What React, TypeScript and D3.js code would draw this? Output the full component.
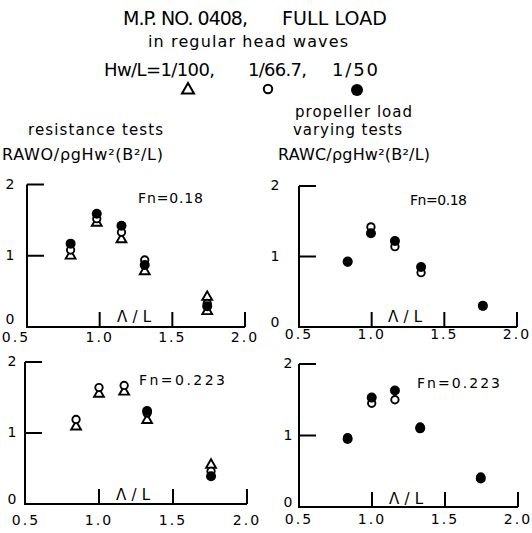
import React from 'react';
import * as d3 from 'd3';

// ---------- axis ticks ----------
const xTicks = [0.5, 1.0, 1.5, 2.0];
const xTickLabels = ['0.5', '1.0', '1.5', '2.0'];
const yTicks = [0, 1, 2];
const yTickLabels = ['0', '1', '2'];

// ---------- resistance tests, Fn = 0.18 ----------
const resA_x = [0.8, 0.98, 1.15, 1.31, 1.74];
const resA_tri = [1.0, 1.46, 1.23, 0.78, 0.42];
const resA_open = [1.08, 1.52, 1.33, 0.94, 0.33];
const resA_filled = [1.17, 1.59, 1.42, 0.87, 0.29];
const resA_triExtraX = [1.74];
const resA_triExtra = [0.22];

// ---------- propeller load varying tests, Fn = 0.18 ----------
const propA_x = [0.835, 0.995, 1.16, 1.34, 1.765];
const propA_open = [0.92, 1.42, 1.14, 0.77, 0.3];
const propA_filled = [0.93, 1.33, 1.22, 0.85, 0.3];

// ---------- resistance tests, Fn = 0.223 ----------
const resB_x = [0.845, 1.0, 1.17, 1.325, 1.757];
const resB_tri = [1.09, 1.55, 1.58, 1.18, 0.55];
const resB_open = [1.19, 1.64, 1.67, 1.28, 0.46];
const resB_filledX = [1.325, 1.757];
const resB_filled = [1.31, 0.39];

// ---------- propeller load varying tests, Fn = 0.223 ----------
const propB_x = [0.833, 0.998, 1.157, 1.33, 1.745];
const propB_open = [0.97, 1.45, 1.5, 1.12, 0.42];
const propB_filled = [0.95, 1.53, 1.63, 1.1, 0.4];

type Pt = { x: number; y: number };
const zip = (xs: number[], ys: number[]): Pt[] => xs.map((x, i) => ({ x, y: ys[i] }));

const FONT = '"DejaVu Sans", sans-serif';

const panels = [
  {
    key: 'tl', x0: 27, x1: 245, yz: 327, y2: 184.5,
    tri: [...zip(resA_x, resA_tri), ...zip(resA_triExtraX, resA_triExtra)],
    open: zip(resA_x, resA_open), filled: zip(resA_x, resA_filled),
    fn: 'Fn=0.18', fnX: 138, fnY: 203, fnW: 65,
    lamX: 117, lamY: 322, tickY: 342, firstDx: -11, yLabDx: -17, zeroDy: -3,
  },
  {
    key: 'tr', x0: 299, x1: 517, yz: 327, y2: 186,
    tri: [] as Pt[],
    open: zip(propA_x, propA_open), filled: zip(propA_x, propA_filled),
    fn: 'Fn=0.18', fnX: 410, fnY: 205, fnW: 57,
    lamX: 388, lamY: 322, tickY: 339, firstDx: 0, yLabDx: -24, zeroDy: 0,
  },
  {
    key: 'bl', x0: 25, x1: 247, yz: 504, y2: 362,
    tri: zip(resB_x, resB_tri),
    open: zip(resB_x, resB_open), filled: zip(resB_filledX, resB_filled),
    fn: 'Fn=0.223', fnX: 139, fnY: 385, fnW: 86,
    lamX: 116, lamY: 500, tickY: 525, firstDx: 1, yLabDx: -13, zeroDy: 0,
  },
  {
    key: 'br', x0: 299, x1: 518, yz: 507, y2: 364,
    tri: [] as Pt[],
    open: zip(propB_x, propB_open), filled: zip(propB_x, propB_filled),
    fn: 'Fn=0.223', fnX: 417, fnY: 388, fnW: 83,
    lamX: 389, lamY: 504, tickY: 524, firstDx: 0, yLabDx: -11, zeroDy: 0,
  },
];

const triPath = d3.symbol().type(d3.symbolTriangle).size(42)() as string;
const triPathBig = d3.symbol().type(d3.symbolTriangle).size(62)() as string;

function Panel({ p }: { p: (typeof panels)[number] }) {
  const x = d3.scaleLinear().domain([0.5, 2.0]).range([p.x0, p.x1]);
  const y = d3.scaleLinear().domain([0, 2]).range([p.yz, p.y2]);
  const ax = x(0.5);
  const sw = 2;
  return (
    <g>
      {/* y axis */}
      <line x1={ax} x2={ax} y1={y(0)} y2={y(2)} stroke="#000" strokeWidth={sw} />
      {yTicks.filter((t) => t > 0).map((t) => (
        <line key={t} x1={ax} x2={ax + 17} y1={y(t)} y2={y(t)} stroke="#000" strokeWidth={sw} />
      ))}
      {/* x axis */}
      <line x1={ax - 1} x2={x(2.0)} y1={y(0)} y2={y(0)} stroke="#000" strokeWidth={sw} />
      {xTicks.filter((t) => t > 0.5).map((t) => (
        <line key={t} x1={x(t)} x2={x(t)} y1={y(0)} y2={y(0) - 15} stroke="#000" strokeWidth={sw} />
      ))}
      {/* tick labels */}
      {xTicks.map((t, i) => (
        <text key={t} x={x(t) + (i === 0 ? p.firstDx : 0)} y={p.tickY} textAnchor="middle"
          fontFamily={FONT} fontSize={14} letterSpacing={2}>{xTickLabels[i]}</text>
      ))}
      {yTicks.map((t, i) => (
        <text key={t} x={ax + p.yLabDx} y={y(t) + (t === 0 ? p.zeroDy : 4)} textAnchor="middle"
          fontFamily={FONT} fontSize={14}>{yTickLabels[i]}</text>
      ))}
      <text x={p.lamX} y={p.lamY} fontFamily={FONT} fontSize={15} textLength={34} lengthAdjust="spacing">Λ/L</text>
      <text x={p.fnX} y={p.fnY} fontFamily={FONT} fontSize={14} textLength={p.fnW} lengthAdjust="spacing">{p.fn}</text>
      {/* markers */}
      {p.tri.map((d, i) => (
        <path key={'t' + i} d={triPath} transform={`translate(${x(d.x)},${y(d.y)})`}
          fill="#fff" stroke="#000" strokeWidth={1.9} />
      ))}
      {p.open.map((d, i) => (
        <circle key={'o' + i} cx={x(d.x)} cy={y(d.y)} r={3.7} fill="#fff" stroke="#000" strokeWidth={1.9} />
      ))}
      {p.filled.map((d, i) => (
        <circle key={'f' + i} cx={x(d.x)} cy={y(d.y)} r={5} fill="#000" />
      ))}
    </g>
  );
}

export default function App() {
  return (
    <svg width={532} height={533} style={{ position: 'absolute', left: 0, top: 0, background: '#fff' }}>
      <rect width={532} height={533} fill="#fff" />
      {/* header */}
      <text x={123} y={25} fontFamily={FONT} fontSize={19} textLength={125} lengthAdjust="spacing">M.P. NO. 0408,</text>
      <text x={282} y={25} fontFamily={FONT} fontSize={19} textLength={105} lengthAdjust="spacing">FULL LOAD</text>
      <text x={148} y={47} fontFamily={FONT} fontSize={16} textLength={200} lengthAdjust="spacing">in regular head waves</text>
      <text x={104} y={76} fontFamily={FONT} fontSize={18} textLength={111} lengthAdjust="spacing">Hw/L=1/100,</text>
      <text x={248} y={76} fontFamily={FONT} fontSize={18} textLength={59} lengthAdjust="spacing">1/66.7,</text>
      <text x={332} y={76} fontFamily={FONT} fontSize={18} textLength={46} lengthAdjust="spacing">1/50</text>
      <path d={triPathBig} transform="translate(188,90)" fill="#fff" stroke="#000" strokeWidth={2} />
      <circle cx={268} cy={89} r={4.2} fill="#fff" stroke="#000" strokeWidth={2} />
      <circle cx={357} cy={90} r={6} fill="#000" />
      {/* panel titles */}
      <text x={295} y={117} fontFamily={FONT} fontSize={15} textLength={117} lengthAdjust="spacing">propeller load</text>
      <text x={28} y={135} fontFamily={FONT} fontSize={15} textLength={135} lengthAdjust="spacing">resistance tests</text>
      <text x={293} y={135} fontFamily={FONT} fontSize={15} textLength={109} lengthAdjust="spacing">varying tests</text>
      <text x={2} y={160} fontFamily={FONT} fontSize={16} textLength={161} lengthAdjust="spacing">RAWO/ρgHw²(B²/L)</text>
      <text x={278} y={160} fontFamily={FONT} fontSize={16} textLength={152} lengthAdjust="spacing">RAWC/ρgHw²(B²/L)</text>
      {panels.map((p) => <Panel key={p.key} p={p} />)}
    </svg>
  );
}
